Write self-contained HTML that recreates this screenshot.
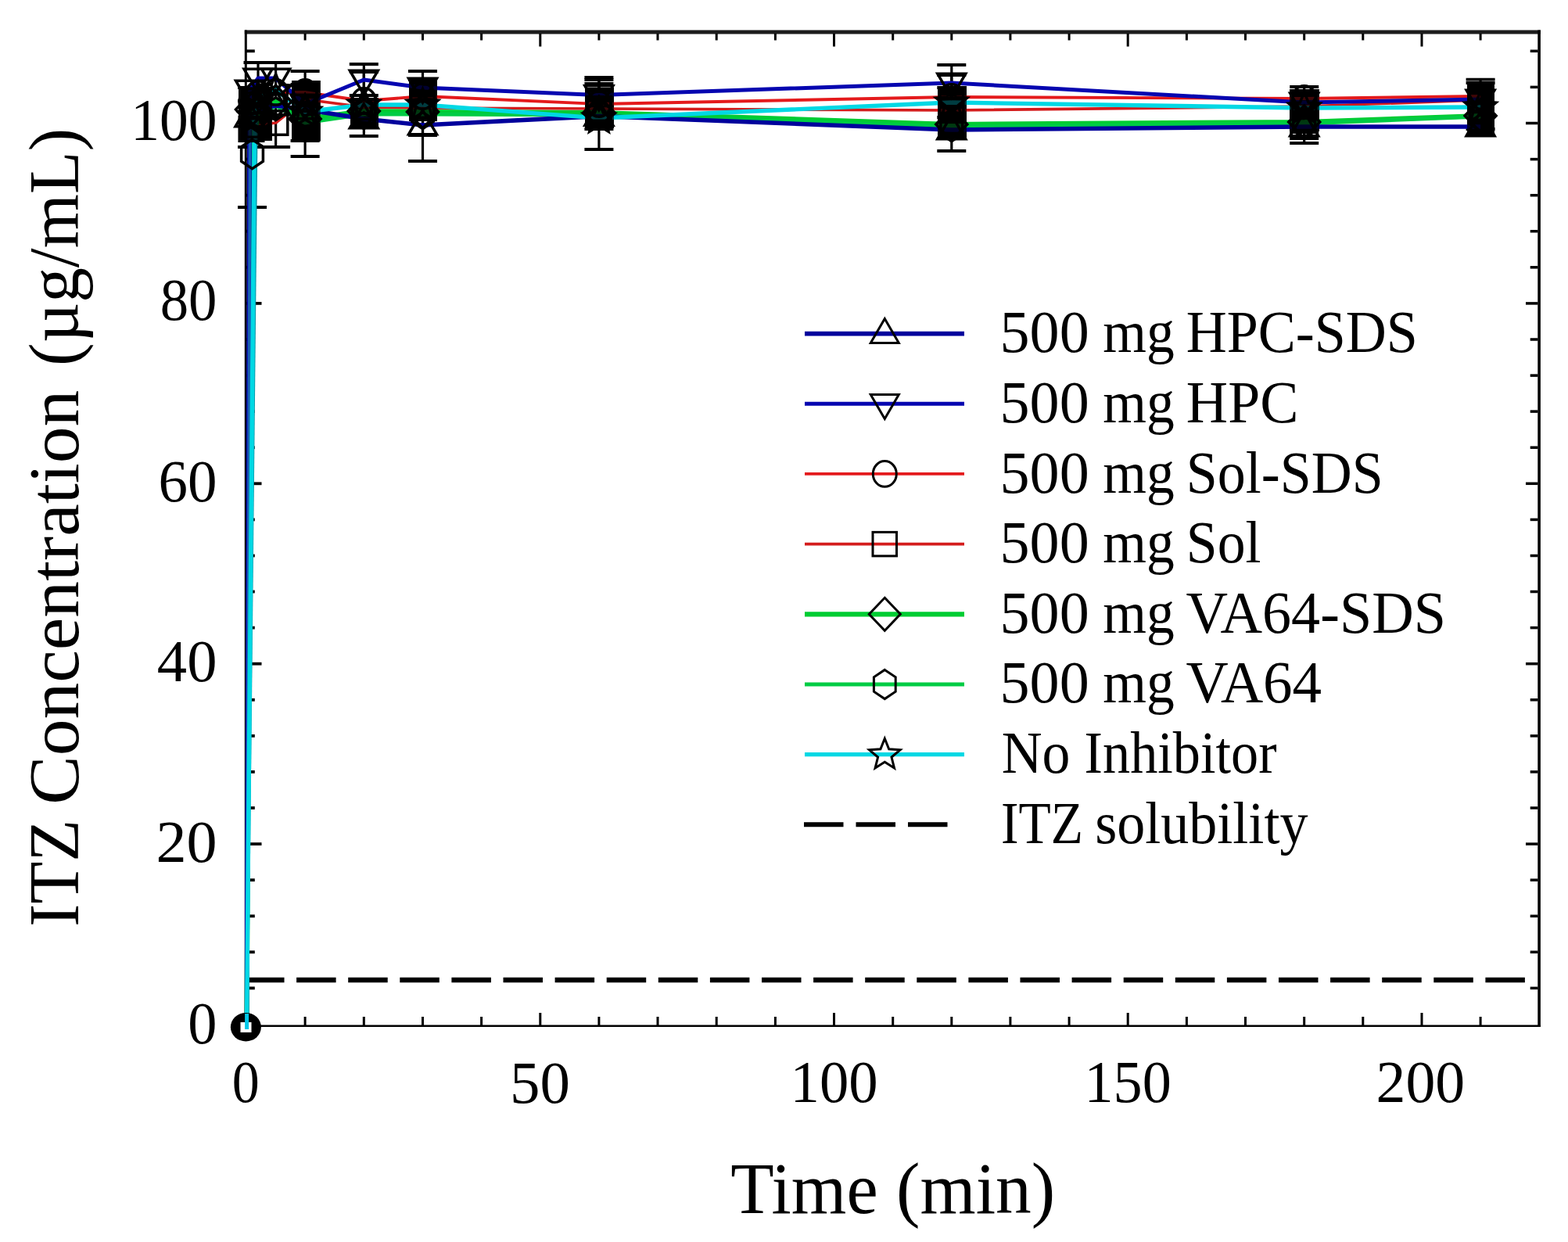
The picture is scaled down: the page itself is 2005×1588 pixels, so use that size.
<!DOCTYPE html>
<html lang="en"><head><meta charset="utf-8"><title>ITZ Concentration vs Time</title>
<style>html,body{margin:0;padding:0;background:#fff;overflow:hidden}svg{display:block}</style></head><body>
<svg width="2005" height="1588" viewBox="0 0 2005 1588">
<rect width="2005" height="1588" fill="#fff"/>
<g stroke="#000" fill="none">
<line x1="312.8" y1="41" x2="1969.9" y2="41" stroke="#1c1c1c" stroke-width="5"/>
<line x1="314.3" y1="38.5" x2="314.3" y2="1313" stroke-width="3"/>
<line x1="1968.1" y1="38.5" x2="1968.1" y2="1313" stroke-width="3.6"/>
<line x1="312.8" y1="1311.8" x2="1969.9" y2="1311.8" stroke-width="2.6"/>
<line x1="390.1" y1="1311" x2="390.1" y2="1300.0" stroke-width="3"/>
<line x1="390.1" y1="43" x2="390.1" y2="51.5" stroke-width="3"/>
<line x1="465.3" y1="1311" x2="465.3" y2="1300.0" stroke-width="3"/>
<line x1="465.3" y1="43" x2="465.3" y2="51.5" stroke-width="3"/>
<line x1="540.5" y1="1311" x2="540.5" y2="1300.0" stroke-width="3"/>
<line x1="540.5" y1="43" x2="540.5" y2="51.5" stroke-width="3"/>
<line x1="615.6" y1="1311" x2="615.6" y2="1300.0" stroke-width="3"/>
<line x1="615.6" y1="43" x2="615.6" y2="51.5" stroke-width="3"/>
<line x1="690.8" y1="1311" x2="690.8" y2="1295.0" stroke-width="3"/>
<line x1="690.8" y1="43" x2="690.8" y2="59.5" stroke-width="3"/>
<line x1="765.9" y1="1311" x2="765.9" y2="1300.0" stroke-width="3"/>
<line x1="765.9" y1="43" x2="765.9" y2="51.5" stroke-width="3"/>
<line x1="841.0" y1="1311" x2="841.0" y2="1300.0" stroke-width="3"/>
<line x1="841.0" y1="43" x2="841.0" y2="51.5" stroke-width="3"/>
<line x1="916.2" y1="1311" x2="916.2" y2="1300.0" stroke-width="3"/>
<line x1="916.2" y1="43" x2="916.2" y2="51.5" stroke-width="3"/>
<line x1="991.4" y1="1311" x2="991.4" y2="1300.0" stroke-width="3"/>
<line x1="991.4" y1="43" x2="991.4" y2="51.5" stroke-width="3"/>
<line x1="1066.5" y1="1311" x2="1066.5" y2="1295.0" stroke-width="3"/>
<line x1="1066.5" y1="43" x2="1066.5" y2="59.5" stroke-width="3"/>
<line x1="1141.7" y1="1311" x2="1141.7" y2="1300.0" stroke-width="3"/>
<line x1="1141.7" y1="43" x2="1141.7" y2="51.5" stroke-width="3"/>
<line x1="1216.8" y1="1311" x2="1216.8" y2="1300.0" stroke-width="3"/>
<line x1="1216.8" y1="43" x2="1216.8" y2="51.5" stroke-width="3"/>
<line x1="1291.9" y1="1311" x2="1291.9" y2="1300.0" stroke-width="3"/>
<line x1="1291.9" y1="43" x2="1291.9" y2="51.5" stroke-width="3"/>
<line x1="1367.1" y1="1311" x2="1367.1" y2="1300.0" stroke-width="3"/>
<line x1="1367.1" y1="43" x2="1367.1" y2="51.5" stroke-width="3"/>
<line x1="1442.2" y1="1311" x2="1442.2" y2="1295.0" stroke-width="3"/>
<line x1="1442.2" y1="43" x2="1442.2" y2="59.5" stroke-width="3"/>
<line x1="1517.4" y1="1311" x2="1517.4" y2="1300.0" stroke-width="3"/>
<line x1="1517.4" y1="43" x2="1517.4" y2="51.5" stroke-width="3"/>
<line x1="1592.5" y1="1311" x2="1592.5" y2="1300.0" stroke-width="3"/>
<line x1="1592.5" y1="43" x2="1592.5" y2="51.5" stroke-width="3"/>
<line x1="1667.7" y1="1311" x2="1667.7" y2="1300.0" stroke-width="3"/>
<line x1="1667.7" y1="43" x2="1667.7" y2="51.5" stroke-width="3"/>
<line x1="1742.8" y1="1311" x2="1742.8" y2="1300.0" stroke-width="3"/>
<line x1="1742.8" y1="43" x2="1742.8" y2="51.5" stroke-width="3"/>
<line x1="1818.0" y1="1311" x2="1818.0" y2="1295.0" stroke-width="3"/>
<line x1="1818.0" y1="43" x2="1818.0" y2="59.5" stroke-width="3"/>
<line x1="1893.1" y1="1311" x2="1893.1" y2="1300.0" stroke-width="3"/>
<line x1="1893.1" y1="43" x2="1893.1" y2="51.5" stroke-width="3"/>
<line x1="313" y1="1263.4" x2="325.8" y2="1263.4" stroke-width="3.8"/>
<line x1="1966.5" y1="1263.4" x2="1956.7" y2="1263.4" stroke-width="3.5"/>
<line x1="313" y1="1217.3" x2="325.8" y2="1217.3" stroke-width="3.8"/>
<line x1="1966.5" y1="1217.3" x2="1956.7" y2="1217.3" stroke-width="3.5"/>
<line x1="313" y1="1171.3" x2="325.8" y2="1171.3" stroke-width="3.8"/>
<line x1="1966.5" y1="1171.3" x2="1956.7" y2="1171.3" stroke-width="3.5"/>
<line x1="313" y1="1125.2" x2="325.8" y2="1125.2" stroke-width="3.8"/>
<line x1="1966.5" y1="1125.2" x2="1956.7" y2="1125.2" stroke-width="3.5"/>
<line x1="313" y1="1079.1" x2="334.5" y2="1079.1" stroke-width="3.8"/>
<line x1="1966.5" y1="1079.1" x2="1951.0" y2="1079.1" stroke-width="3.5"/>
<line x1="313" y1="1033.0" x2="325.8" y2="1033.0" stroke-width="3.8"/>
<line x1="1966.5" y1="1033.0" x2="1956.7" y2="1033.0" stroke-width="3.5"/>
<line x1="313" y1="986.9" x2="325.8" y2="986.9" stroke-width="3.8"/>
<line x1="1966.5" y1="986.9" x2="1956.7" y2="986.9" stroke-width="3.5"/>
<line x1="313" y1="940.9" x2="325.8" y2="940.9" stroke-width="3.8"/>
<line x1="1966.5" y1="940.9" x2="1956.7" y2="940.9" stroke-width="3.5"/>
<line x1="313" y1="894.8" x2="325.8" y2="894.8" stroke-width="3.8"/>
<line x1="1966.5" y1="894.8" x2="1956.7" y2="894.8" stroke-width="3.5"/>
<line x1="313" y1="848.7" x2="334.5" y2="848.7" stroke-width="3.8"/>
<line x1="1966.5" y1="848.7" x2="1951.0" y2="848.7" stroke-width="3.5"/>
<line x1="313" y1="802.6" x2="325.8" y2="802.6" stroke-width="3.8"/>
<line x1="1966.5" y1="802.6" x2="1956.7" y2="802.6" stroke-width="3.5"/>
<line x1="313" y1="756.5" x2="325.8" y2="756.5" stroke-width="3.8"/>
<line x1="1966.5" y1="756.5" x2="1956.7" y2="756.5" stroke-width="3.5"/>
<line x1="313" y1="710.5" x2="325.8" y2="710.5" stroke-width="3.8"/>
<line x1="1966.5" y1="710.5" x2="1956.7" y2="710.5" stroke-width="3.5"/>
<line x1="313" y1="664.4" x2="325.8" y2="664.4" stroke-width="3.8"/>
<line x1="1966.5" y1="664.4" x2="1956.7" y2="664.4" stroke-width="3.5"/>
<line x1="313" y1="618.3" x2="334.5" y2="618.3" stroke-width="3.8"/>
<line x1="1966.5" y1="618.3" x2="1951.0" y2="618.3" stroke-width="3.5"/>
<line x1="313" y1="572.2" x2="325.8" y2="572.2" stroke-width="3.8"/>
<line x1="1966.5" y1="572.2" x2="1956.7" y2="572.2" stroke-width="3.5"/>
<line x1="313" y1="526.1" x2="325.8" y2="526.1" stroke-width="3.8"/>
<line x1="1966.5" y1="526.1" x2="1956.7" y2="526.1" stroke-width="3.5"/>
<line x1="313" y1="480.1" x2="325.8" y2="480.1" stroke-width="3.8"/>
<line x1="1966.5" y1="480.1" x2="1956.7" y2="480.1" stroke-width="3.5"/>
<line x1="313" y1="434.0" x2="325.8" y2="434.0" stroke-width="3.8"/>
<line x1="1966.5" y1="434.0" x2="1956.7" y2="434.0" stroke-width="3.5"/>
<line x1="313" y1="387.9" x2="334.5" y2="387.9" stroke-width="3.8"/>
<line x1="1966.5" y1="387.9" x2="1951.0" y2="387.9" stroke-width="3.5"/>
<line x1="313" y1="341.8" x2="325.8" y2="341.8" stroke-width="3.8"/>
<line x1="1966.5" y1="341.8" x2="1956.7" y2="341.8" stroke-width="3.5"/>
<line x1="313" y1="295.7" x2="325.8" y2="295.7" stroke-width="3.8"/>
<line x1="1966.5" y1="295.7" x2="1956.7" y2="295.7" stroke-width="3.5"/>
<line x1="313" y1="249.7" x2="325.8" y2="249.7" stroke-width="3.8"/>
<line x1="1966.5" y1="249.7" x2="1956.7" y2="249.7" stroke-width="3.5"/>
<line x1="313" y1="203.6" x2="325.8" y2="203.6" stroke-width="3.8"/>
<line x1="1966.5" y1="203.6" x2="1956.7" y2="203.6" stroke-width="3.5"/>
<line x1="313" y1="157.5" x2="334.5" y2="157.5" stroke-width="3.8"/>
<line x1="1966.5" y1="157.5" x2="1951.0" y2="157.5" stroke-width="3.5"/>
<line x1="313" y1="111.4" x2="325.8" y2="111.4" stroke-width="3.8"/>
<line x1="1966.5" y1="111.4" x2="1956.7" y2="111.4" stroke-width="3.5"/>
<line x1="313" y1="65.3" x2="325.8" y2="65.3" stroke-width="3.8"/>
<line x1="1966.5" y1="65.3" x2="1956.7" y2="65.3" stroke-width="3.5"/>
</g>
<line x1="313" y1="1253" x2="1958" y2="1253" stroke="#000" stroke-width="6.5" stroke-dasharray="50.5 15.6"/>
<g stroke="#000" stroke-width="3.2" fill="none">
<line x1="322.5" y1="129.0" x2="322.5" y2="265.0"/>
<line x1="304.0" y1="129.0" x2="341.0" y2="129.0" stroke-width="3.8"/>
<line x1="304.0" y1="265.0" x2="341.0" y2="265.0" stroke-width="3.8"/>
<line x1="322.5" y1="112.0" x2="322.5" y2="188.0"/>
<line x1="304.0" y1="112.0" x2="341.0" y2="112.0" stroke-width="3.8"/>
<line x1="304.0" y1="188.0" x2="341.0" y2="188.0" stroke-width="3.8"/>
<line x1="330.0" y1="80.0" x2="330.0" y2="150.0"/>
<line x1="311.5" y1="80.0" x2="348.5" y2="80.0" stroke-width="3.8"/>
<line x1="311.5" y1="150.0" x2="348.5" y2="150.0" stroke-width="3.8"/>
<line x1="352.6" y1="80.0" x2="352.6" y2="188.0"/>
<line x1="334.1" y1="80.0" x2="371.1" y2="80.0" stroke-width="3.8"/>
<line x1="334.1" y1="188.0" x2="371.1" y2="188.0" stroke-width="3.8"/>
<line x1="390.1" y1="91.0" x2="390.1" y2="200.0"/>
<line x1="371.6" y1="91.0" x2="408.6" y2="91.0" stroke-width="3.8"/>
<line x1="371.6" y1="200.0" x2="408.6" y2="200.0" stroke-width="3.8"/>
<line x1="390.1" y1="108.0" x2="390.1" y2="180.0"/>
<line x1="371.6" y1="108.0" x2="408.6" y2="108.0" stroke-width="3.8"/>
<line x1="371.6" y1="180.0" x2="408.6" y2="180.0" stroke-width="3.8"/>
<line x1="465.3" y1="82.0" x2="465.3" y2="122.0"/>
<line x1="446.8" y1="82.0" x2="483.8" y2="82.0" stroke-width="3.8"/>
<line x1="446.8" y1="122.0" x2="483.8" y2="122.0" stroke-width="3.8"/>
<line x1="465.3" y1="92.0" x2="465.3" y2="174.0"/>
<line x1="446.8" y1="92.0" x2="483.8" y2="92.0" stroke-width="3.8"/>
<line x1="446.8" y1="174.0" x2="483.8" y2="174.0" stroke-width="3.8"/>
<line x1="540.5" y1="91.0" x2="540.5" y2="206.0"/>
<line x1="522.0" y1="91.0" x2="559.0" y2="91.0" stroke-width="3.8"/>
<line x1="522.0" y1="206.0" x2="559.0" y2="206.0" stroke-width="3.8"/>
<line x1="540.5" y1="102.0" x2="540.5" y2="173.0"/>
<line x1="522.0" y1="102.0" x2="559.0" y2="102.0" stroke-width="3.8"/>
<line x1="522.0" y1="173.0" x2="559.0" y2="173.0" stroke-width="3.8"/>
<line x1="765.9" y1="99.0" x2="765.9" y2="191.0"/>
<line x1="747.4" y1="99.0" x2="784.4" y2="99.0" stroke-width="3.8"/>
<line x1="747.4" y1="191.0" x2="784.4" y2="191.0" stroke-width="3.8"/>
<line x1="765.9" y1="102.0" x2="765.9" y2="165.0"/>
<line x1="747.4" y1="102.0" x2="784.4" y2="102.0" stroke-width="3.8"/>
<line x1="747.4" y1="165.0" x2="784.4" y2="165.0" stroke-width="3.8"/>
<line x1="765.9" y1="107.0" x2="765.9" y2="160.0"/>
<line x1="747.4" y1="107.0" x2="784.4" y2="107.0" stroke-width="3.8"/>
<line x1="747.4" y1="160.0" x2="784.4" y2="160.0" stroke-width="3.8"/>
<line x1="1216.8" y1="83.0" x2="1216.8" y2="193.0"/>
<line x1="1198.3" y1="83.0" x2="1235.3" y2="83.0" stroke-width="3.8"/>
<line x1="1198.3" y1="193.0" x2="1235.3" y2="193.0" stroke-width="3.8"/>
<line x1="1216.8" y1="96.0" x2="1216.8" y2="177.0"/>
<line x1="1198.3" y1="96.0" x2="1235.3" y2="96.0" stroke-width="3.8"/>
<line x1="1198.3" y1="177.0" x2="1235.3" y2="177.0" stroke-width="3.8"/>
<line x1="1216.8" y1="112.0" x2="1216.8" y2="150.0"/>
<line x1="1198.3" y1="112.0" x2="1235.3" y2="112.0" stroke-width="3.8"/>
<line x1="1198.3" y1="150.0" x2="1235.3" y2="150.0" stroke-width="3.8"/>
<line x1="1667.7" y1="111.0" x2="1667.7" y2="183.0"/>
<line x1="1649.2" y1="111.0" x2="1686.2" y2="111.0" stroke-width="3.8"/>
<line x1="1649.2" y1="183.0" x2="1686.2" y2="183.0" stroke-width="3.8"/>
<line x1="1667.7" y1="118.0" x2="1667.7" y2="177.0"/>
<line x1="1649.2" y1="118.0" x2="1686.2" y2="118.0" stroke-width="3.8"/>
<line x1="1649.2" y1="177.0" x2="1686.2" y2="177.0" stroke-width="3.8"/>
<line x1="1667.7" y1="125.0" x2="1667.7" y2="169.0"/>
<line x1="1649.2" y1="125.0" x2="1686.2" y2="125.0" stroke-width="3.8"/>
<line x1="1649.2" y1="169.0" x2="1686.2" y2="169.0" stroke-width="3.8"/>
<line x1="1893.1" y1="101.6" x2="1893.1" y2="172.6"/>
<line x1="1874.6" y1="101.6" x2="1911.6" y2="101.6" stroke-width="3.8"/>
<line x1="1874.6" y1="172.6" x2="1911.6" y2="172.6" stroke-width="3.8"/>
<line x1="1893.1" y1="106.0" x2="1893.1" y2="165.0"/>
<line x1="1874.6" y1="106.0" x2="1911.6" y2="106.0" stroke-width="3.8"/>
<line x1="1874.6" y1="165.0" x2="1911.6" y2="165.0" stroke-width="3.8"/>
</g>
<g fill="#000">
<rect x="305.0" y="111.0" width="43.0" height="69.0"/>
<rect x="373.0" y="103.0" width="36.7" height="77.5"/>
<rect x="448.0" y="125.0" width="36.0" height="39.0"/>
<rect x="523.0" y="103.0" width="36.0" height="52.0"/>
<rect x="748.0" y="112.0" width="37.0" height="52.0"/>
<rect x="1199.0" y="110.0" width="37.0" height="68.0"/>
<rect x="1649.0" y="114.0" width="38.0" height="54.0"/>
<rect x="1876.0" y="106.0" width="35.0" height="66.0"/>
</g>
<polyline points="315.5,1312.0 321.0,130.0 330.0,120.0 352.6,118.0 390.1,118.0 465.3,129.0 540.5,123.0 765.9,133.0 1216.8,124.0 1667.7,126.0 1893.1,123.0" fill="none" stroke="#e41a1c" stroke-width="3.9" stroke-linejoin="round"/>
<polyline points="315.5,1312.0 321.5,165.0 330.0,160.0 352.6,157.0 390.1,127.0 465.3,137.0 540.5,138.0 765.9,139.0 1216.8,141.0 1667.7,136.0 1893.1,128.0" fill="none" stroke="#d41c1c" stroke-width="3.7" stroke-linejoin="round"/>
<polyline points="315.5,1312.0 321.5,140.0 330.0,145.0 352.6,130.0 390.1,152.0 465.3,142.0 540.5,143.0 765.9,144.0 1216.8,159.0 1667.7,156.0 1893.1,148.0" fill="none" stroke="#00cc32" stroke-width="6.2" stroke-linejoin="round"/>
<polyline points="315.5,1312.0 322.5,197.0 330.0,150.0 352.6,135.0 390.1,157.0 465.3,146.0 540.5,146.0 765.9,147.0 1216.8,162.0 1667.7,158.0 1893.1,149.0" fill="none" stroke="#00cc44" stroke-width="5.0" stroke-linejoin="round"/>
<polyline points="315.5,1312.0 319.0,150.0 330.0,140.0 352.6,135.0 390.1,140.0 465.3,152.0 540.5,160.0 765.9,148.5 1216.8,166.0 1667.7,162.0 1893.1,162.0" fill="none" stroke="#00009c" stroke-width="5.6" stroke-linejoin="round"/>
<polyline points="315.5,1312.0 319.5,115.0 330.0,100.0 352.6,100.0 390.1,133.0 465.3,102.0 540.5,112.0 765.9,121.5 1216.8,106.0 1667.7,131.0 1893.1,127.0" fill="none" stroke="#0606b0" stroke-width="5.0" stroke-linejoin="round"/>
<line x1="315.6" y1="1300" x2="319.6" y2="160" stroke="#1a62b0" stroke-width="3.6"/>
<line x1="316.4" y1="1300" x2="328.2" y2="150" stroke="#0a96a8" stroke-width="3"/>
<polyline points="315.5,1312.0 325.5,150.0 330.0,125.0 352.6,115.0 390.1,143.0 465.3,134.0 540.5,134.0 765.9,151.0 1216.8,131.0 1667.7,138.0 1893.1,137.0" fill="none" stroke="#00d8e4" stroke-width="5.4" stroke-linejoin="round"/>
<g fill="#000" fill-opacity="0.72">
<rect x="305.0" y="111.0" width="43.0" height="69.0"/>
<rect x="373.0" y="103.0" width="36.7" height="77.5"/>
<rect x="448.0" y="125.0" width="36.0" height="39.0"/>
<rect x="523.0" y="103.0" width="36.0" height="52.0"/>
<rect x="748.0" y="112.0" width="37.0" height="52.0"/>
<rect x="1199.0" y="110.0" width="37.0" height="68.0"/>
<rect x="1649.0" y="114.0" width="38.0" height="54.0"/>
<rect x="1876.0" y="106.0" width="35.0" height="66.0"/>
</g>
<g stroke="#000" stroke-width="3.5" fill="none">
<polygon points="319.0,130.8 337.0,161.8 301.0,161.8"/>
<polygon points="330.0,120.8 348.0,151.8 312.0,151.8"/>
<polygon points="352.6,115.8 370.6,146.8 334.6,146.8"/>
<polygon points="390.1,120.8 408.1,151.8 372.1,151.8"/>
<polygon points="465.3,132.8 483.3,163.8 447.3,163.8"/>
<polygon points="540.5,140.8 558.5,171.8 522.5,171.8"/>
<polygon points="765.9,129.3 783.9,160.3 747.9,160.3"/>
<polygon points="1216.8,146.8 1234.8,177.8 1198.8,177.8"/>
<polygon points="1667.7,142.8 1685.7,173.8 1649.7,173.8"/>
<polygon points="1893.1,142.8 1911.1,173.8 1875.1,173.8"/>
<polygon points="319.5,134.2 337.5,103.2 301.5,103.2"/>
<polygon points="330.0,119.2 348.0,88.2 312.0,88.2"/>
<polygon points="352.6,119.2 370.6,88.2 334.6,88.2"/>
<polygon points="390.1,152.2 408.1,121.2 372.1,121.2"/>
<polygon points="465.3,121.2 483.3,90.2 447.3,90.2"/>
<polygon points="540.5,131.2 558.5,100.2 522.5,100.2"/>
<polygon points="765.9,140.7 783.9,109.7 747.9,109.7"/>
<polygon points="1216.8,125.2 1234.8,94.2 1198.8,94.2"/>
<polygon points="1667.7,150.2 1685.7,119.2 1649.7,119.2"/>
<polygon points="1893.1,146.2 1911.1,115.2 1875.1,115.2"/>
<ellipse cx="321.0" cy="130.0" rx="15" ry="16.3"/>
<ellipse cx="330.0" cy="120.0" rx="15" ry="16.3"/>
<ellipse cx="352.6" cy="118.0" rx="15" ry="16.3"/>
<ellipse cx="390.1" cy="118.0" rx="15" ry="16.3"/>
<ellipse cx="465.3" cy="129.0" rx="15" ry="16.3"/>
<ellipse cx="540.5" cy="123.0" rx="15" ry="16.3"/>
<ellipse cx="765.9" cy="133.0" rx="15" ry="16.3"/>
<ellipse cx="1216.8" cy="124.0" rx="15" ry="16.3"/>
<ellipse cx="1667.7" cy="126.0" rx="15" ry="16.3"/>
<ellipse cx="1893.1" cy="123.0" rx="15" ry="16.3"/>
<rect x="306.2" y="149.8" width="30.5" height="30.5"/>
<rect x="314.8" y="144.8" width="30.5" height="30.5"/>
<rect x="337.3" y="141.8" width="30.5" height="30.5"/>
<rect x="374.9" y="111.8" width="30.5" height="30.5"/>
<rect x="450.0" y="121.8" width="30.5" height="30.5"/>
<rect x="525.2" y="122.8" width="30.5" height="30.5"/>
<rect x="750.6" y="123.8" width="30.5" height="30.5"/>
<rect x="1201.5" y="125.8" width="30.5" height="30.5"/>
<rect x="1652.5" y="120.8" width="30.5" height="30.5"/>
<rect x="1877.9" y="112.8" width="30.5" height="30.5"/>
<polygon points="321.5,119.0 341.5,140.0 321.5,161.0 301.5,140.0"/>
<polygon points="330.0,124.0 350.0,145.0 330.0,166.0 310.0,145.0"/>
<polygon points="352.6,109.0 372.6,130.0 352.6,151.0 332.6,130.0"/>
<polygon points="390.1,131.0 410.1,152.0 390.1,173.0 370.1,152.0"/>
<polygon points="465.3,121.0 485.3,142.0 465.3,163.0 445.3,142.0"/>
<polygon points="540.5,122.0 560.5,143.0 540.5,164.0 520.5,143.0"/>
<polygon points="765.9,123.0 785.9,144.0 765.9,165.0 745.9,144.0"/>
<polygon points="1216.8,138.0 1236.8,159.0 1216.8,180.0 1196.8,159.0"/>
<polygon points="1667.7,135.0 1687.7,156.0 1667.7,177.0 1647.7,156.0"/>
<polygon points="1893.1,127.0 1913.1,148.0 1893.1,169.0 1873.1,148.0"/>
<polygon points="322.5,178.4 336.4,187.7 336.4,206.3 322.5,215.6 308.6,206.3 308.6,187.7"/>
<polygon points="330.0,131.4 343.9,140.7 343.9,159.3 330.0,168.6 316.2,159.3 316.2,140.7"/>
<polygon points="352.6,116.4 366.4,125.7 366.4,144.3 352.6,153.6 338.7,144.3 338.7,125.7"/>
<polygon points="390.1,138.4 404.0,147.7 404.0,166.3 390.1,175.6 376.3,166.3 376.3,147.7"/>
<polygon points="465.3,127.4 479.2,136.7 479.2,155.3 465.3,164.6 451.4,155.3 451.4,136.7"/>
<polygon points="540.5,127.4 554.3,136.7 554.3,155.3 540.5,164.6 526.6,155.3 526.6,136.7"/>
<polygon points="765.9,128.4 779.8,137.7 779.8,156.3 765.9,165.6 752.0,156.3 752.0,137.7"/>
<polygon points="1216.8,143.4 1230.7,152.7 1230.7,171.3 1216.8,180.6 1202.9,171.3 1202.9,152.7"/>
<polygon points="1667.7,139.4 1681.6,148.7 1681.6,167.3 1667.7,176.6 1653.8,167.3 1653.8,148.7"/>
<polygon points="1893.1,130.4 1907.0,139.7 1907.0,158.3 1893.1,167.6 1879.3,158.3 1879.3,139.7"/>
<polygon points="325.5,129.7 330.9,143.1 345.3,144.1 334.2,153.3 337.7,167.3 325.5,159.7 313.3,167.3 316.8,153.3 305.7,144.1 320.1,143.1"/>
<polygon points="330.0,104.7 335.4,118.1 349.8,119.1 338.8,128.3 342.3,142.3 330.0,134.7 317.8,142.3 321.3,128.3 310.2,119.1 324.6,118.1"/>
<polygon points="352.6,94.7 358.0,108.1 372.4,109.1 361.3,118.3 364.8,132.3 352.6,124.7 340.3,132.3 343.8,118.3 332.8,109.1 347.2,108.1"/>
<polygon points="390.1,122.7 395.6,136.1 409.9,137.1 398.9,146.3 402.4,160.3 390.1,152.7 377.9,160.3 381.4,146.3 370.4,137.1 384.7,136.1"/>
<polygon points="465.3,113.7 470.7,127.1 485.1,128.1 474.0,137.3 477.5,151.3 465.3,143.7 453.1,151.3 456.6,137.3 445.5,128.1 459.9,127.1"/>
<polygon points="540.5,113.7 545.9,127.1 560.2,128.1 549.2,137.3 552.7,151.3 540.5,143.7 528.2,151.3 531.7,137.3 520.7,128.1 535.0,127.1"/>
<polygon points="765.9,130.7 771.3,144.1 785.7,145.1 774.6,154.3 778.1,168.3 765.9,160.7 753.7,168.3 757.2,154.3 746.1,145.1 760.5,144.1"/>
<polygon points="1216.8,110.7 1222.2,124.1 1236.6,125.1 1225.5,134.3 1229.0,148.3 1216.8,140.7 1204.6,148.3 1208.1,134.3 1197.0,125.1 1211.4,124.1"/>
<polygon points="1667.7,117.7 1673.1,131.1 1687.5,132.1 1676.4,141.3 1679.9,155.3 1667.7,147.7 1655.5,155.3 1659.0,141.3 1647.9,132.1 1662.3,131.1"/>
<polygon points="1893.1,116.7 1898.6,130.1 1912.9,131.1 1901.9,140.3 1905.4,154.3 1893.1,146.7 1880.9,154.3 1884.4,140.3 1873.4,131.1 1887.7,130.1"/>
</g>
<ellipse cx="314.4" cy="1313.2" rx="19.5" ry="18.3" fill="#000"/>
<rect x="307.5" y="1307" width="14" height="13" fill="#fff"/>
<line x1="315.6" y1="1296" x2="315.6" y2="1316" stroke="#00c8e8" stroke-width="5"/>
<g font-family="Liberation Serif, 'Times New Roman', serif" fill="#000">
<text x="167.24" y="179.00" font-size="76" textLength="110.16" lengthAdjust="spacingAndGlyphs">100</text>
<text x="204.63" y="409.10" font-size="76" textLength="72.74" lengthAdjust="spacingAndGlyphs">80</text>
<text x="202.44" y="640.80" font-size="76" textLength="75.02" lengthAdjust="spacingAndGlyphs">60</text>
<text x="200.89" y="870.50" font-size="76" textLength="76.63" lengthAdjust="spacingAndGlyphs">40</text>
<text x="199.52" y="1101.50" font-size="76" textLength="78.06" lengthAdjust="spacingAndGlyphs">20</text>
<text x="240.27" y="1333.70" font-size="76" textLength="37.17" lengthAdjust="spacingAndGlyphs">0</text>
<text x="296.63" y="1409.40" font-size="76" textLength="35.03" lengthAdjust="spacingAndGlyphs">0</text>
<text x="651.95" y="1409.60" font-size="76" textLength="76.88" lengthAdjust="spacingAndGlyphs">50</text>
<text x="1010.61" y="1409.40" font-size="76" textLength="112.14" lengthAdjust="spacingAndGlyphs">100</text>
<text x="1386.46" y="1409.00" font-size="76" textLength="111.37" lengthAdjust="spacingAndGlyphs">150</text>
<text x="1759.51" y="1408.80" font-size="76" textLength="113.68" lengthAdjust="spacingAndGlyphs">200</text>
<text x="934.35" y="1550.50" font-size="93" textLength="188.38" lengthAdjust="spacingAndGlyphs">Time</text>
<text x="1146.07" y="1550.50" font-size="93" textLength="203.20" lengthAdjust="spacingAndGlyphs">(min)</text>
<text transform="translate(99.60,1184.88) rotate(-90)" font-size="92" textLength="137.10" lengthAdjust="spacingAndGlyphs">ITZ</text>
<text transform="translate(99.60,1028.67) rotate(-90)" font-size="92" textLength="529.87" lengthAdjust="spacingAndGlyphs">Concentration</text>
<text transform="translate(99.60,467.88) rotate(-90)" font-size="92" textLength="303.98" lengthAdjust="spacingAndGlyphs">(µg/mL)</text>
</g>
<line x1="1029" y1="426.6" x2="1233" y2="426.6" stroke="#00009c" stroke-width="5.6"/>
<g stroke="#000" stroke-width="3" fill="none"><polygon points="1131.3,407.4 1149.3,438.4 1113.3,438.4"/></g>
<line x1="1029" y1="516.3" x2="1233" y2="516.3" stroke="#0606b0" stroke-width="5.0"/>
<g stroke="#000" stroke-width="3" fill="none"><polygon points="1131.3,535.5 1149.3,504.5 1113.3,504.5"/></g>
<line x1="1029" y1="605.9" x2="1233" y2="605.9" stroke="#e41a1c" stroke-width="3.9"/>
<g stroke="#000" stroke-width="3" fill="none"><ellipse cx="1131.3" cy="605.9" rx="15" ry="16.3"/></g>
<line x1="1029" y1="695.6" x2="1233" y2="695.6" stroke="#d41c1c" stroke-width="3.7"/>
<g stroke="#000" stroke-width="3" fill="none"><rect x="1116.0" y="680.4" width="30.5" height="30.5"/></g>
<line x1="1029" y1="785.3" x2="1233" y2="785.3" stroke="#00cc32" stroke-width="6.2"/>
<g stroke="#000" stroke-width="3" fill="none"><polygon points="1131.3,764.3 1151.3,785.3 1131.3,806.3 1111.3,785.3"/></g>
<line x1="1029" y1="875.0" x2="1233" y2="875.0" stroke="#00cc44" stroke-width="5.0"/>
<g stroke="#000" stroke-width="3" fill="none"><polygon points="1131.3,856.4 1145.2,865.7 1145.2,884.2 1131.3,893.6 1117.4,884.2 1117.4,865.7"/></g>
<line x1="1029" y1="964.6" x2="1233" y2="964.6" stroke="#00d8e4" stroke-width="5.4"/>
<g stroke="#000" stroke-width="3" fill="none"><polygon points="1131.3,944.3 1136.7,957.7 1151.1,958.7 1140.0,968.0 1143.5,981.9 1131.3,974.3 1119.1,981.9 1122.6,968.0 1111.5,958.7 1125.9,957.7"/></g>
<line x1="1028" y1="1054.3" x2="1212" y2="1054.3" stroke="#000" stroke-width="6" stroke-dasharray="50.5 16"/>
<g font-family="Liberation Serif, 'Times New Roman', serif" fill="#000">
<text x="1278.57" y="450.30" font-size="75.5" textLength="114.10" lengthAdjust="spacingAndGlyphs">500</text>
<text x="1410.30" y="450.30" font-size="75.5" textLength="91.50" lengthAdjust="spacingAndGlyphs">mg</text>
<text x="1516.69" y="450.30" font-size="75.5" textLength="296.13" lengthAdjust="spacingAndGlyphs">HPC-SDS</text>
<text x="1278.57" y="539.90" font-size="75.5" textLength="114.10" lengthAdjust="spacingAndGlyphs">500</text>
<text x="1410.30" y="539.90" font-size="75.5" textLength="91.50" lengthAdjust="spacingAndGlyphs">mg</text>
<text x="1516.85" y="539.90" font-size="75.5" textLength="143.54" lengthAdjust="spacingAndGlyphs">HPC</text>
<text x="1278.57" y="629.50" font-size="75.5" textLength="114.10" lengthAdjust="spacingAndGlyphs">500</text>
<text x="1410.30" y="629.50" font-size="75.5" textLength="91.50" lengthAdjust="spacingAndGlyphs">mg</text>
<text x="1516.83" y="629.50" font-size="75.5" textLength="252.04" lengthAdjust="spacingAndGlyphs">Sol-SDS</text>
<text x="1278.57" y="719.10" font-size="75.5" textLength="114.10" lengthAdjust="spacingAndGlyphs">500</text>
<text x="1410.30" y="719.10" font-size="75.5" textLength="91.50" lengthAdjust="spacingAndGlyphs">mg</text>
<text x="1516.86" y="719.10" font-size="75.5" textLength="95.58" lengthAdjust="spacingAndGlyphs">Sol</text>
<text x="1278.57" y="808.70" font-size="75.5" textLength="114.10" lengthAdjust="spacingAndGlyphs">500</text>
<text x="1410.30" y="808.70" font-size="75.5" textLength="91.50" lengthAdjust="spacingAndGlyphs">mg</text>
<text x="1516.42" y="808.70" font-size="75.5" textLength="332.57" lengthAdjust="spacingAndGlyphs">VA64-SDS</text>
<text x="1278.57" y="898.30" font-size="75.5" textLength="114.10" lengthAdjust="spacingAndGlyphs">500</text>
<text x="1410.30" y="898.30" font-size="75.5" textLength="91.50" lengthAdjust="spacingAndGlyphs">mg</text>
<text x="1516.41" y="898.30" font-size="75.5" textLength="173.72" lengthAdjust="spacingAndGlyphs">VA64</text>
<text x="1280.70" y="987.90" font-size="75.5" textLength="87.72" lengthAdjust="spacingAndGlyphs">No</text>
<text x="1386.61" y="987.90" font-size="75.5" textLength="246.00" lengthAdjust="spacingAndGlyphs">Inhibitor</text>
<text x="1279.92" y="1077.50" font-size="75.5" textLength="105.01" lengthAdjust="spacingAndGlyphs">ITZ</text>
<text x="1400.14" y="1077.50" font-size="75.5" textLength="272.32" lengthAdjust="spacingAndGlyphs">solubility</text>
</g>
</svg></body></html>
